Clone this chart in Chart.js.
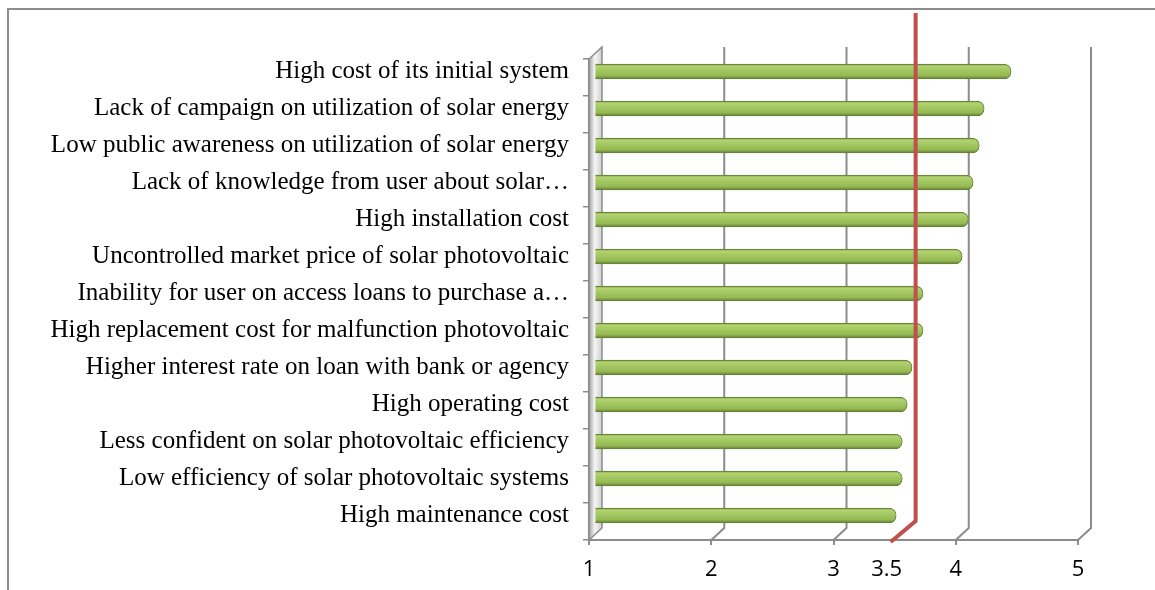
<!DOCTYPE html>
<html>
<head>
<meta charset="utf-8">
<script src="https://cdn.jsdelivr.net/npm/chart.js@4.4.1/dist/chart.umd.min.js"></script>
<style>
    html, body { margin: 0; padding: 0; background: #fff; overflow: hidden; }
    #wrap { position: relative; width: 1155px; height: 590px; }
    #frame { position: absolute; left: 7px; top: 8px; width: 1200px; height: 700px; border: 2px solid #8d8d8d; }
    #barrier-chart { position: absolute; left: 0; top: 0; }
</style>
</head>
<body>
<div id="wrap">
    <div id="frame"></div>
    <canvas id="barrier-chart" width="1155" height="590"></canvas>
</div>
<script>
// -- data --//
const barriers = [
    "High cost of its initial system",
    "Lack of campaign on utilization of solar energy",
    "Low public awareness on utilization of solar energy",
    "Lack of knowledge from user about solar…",
    "High installation cost",
    "Uncontrolled market price of solar photovoltaic",
    "Inability for user on access loans to purchase a…",
    "High replacement cost for malfunction photovoltaic",
    "Higher interest rate on loan with bank or agency",
    "High operating cost",
    "Less confident on solar photovoltaic efficiency",
    "Low efficiency of solar photovoltaic systems",
    "High maintenance cost"
];
const meanScores = [4.40, 4.18, 4.14, 4.09, 4.05, 4.00, 3.68, 3.68, 3.59, 3.55, 3.51, 3.51, 3.46];
const tickValues = [1, 2, 3, 4, 5];
const cutoff = 3.5;
const cutoffLabel = "3.5";

// 3d depth of the plot box (back wall offset)
const DX = 13;
const DY = -12;

const tickFont = { family: "'Open Sans', sans-serif", size: 22 };

// cylinder look for each bar (gradient is set in the shifted bar space)
const barGradient = (c) => {
    const chart = c.chart;
    const y = chart.scales.y;
    if (!y || c.dataIndex === undefined) return '#9bbb59';
    const cy = y.getPixelForValue(c.dataIndex);
    if (!Number.isFinite(cy)) return '#9bbb59';
    const g = chart.ctx.createLinearGradient(0, cy - 7.5, 0, cy + 7.5);
    g.addColorStop(0, '#728f3a');
    g.addColorStop(0.14, '#b3d472');
    g.addColorStop(0.4, '#a4c862');
    g.addColorStop(0.78, '#94b852');
    g.addColorStop(1, '#647b34');
    return g;
};

// -- back grid, side wall, red cutoff line --//
const depthPlugin = {
    id: 'depth',
    beforeDatasetsDraw(chart) {
        const { ctx, chartArea: a, scales: { x } } = chart;
        ctx.save();
        ctx.strokeStyle = '#8c8c8c';
        ctx.lineWidth = 2;
        tickValues.slice(1).forEach(v => {
            const px = x.getPixelForValue(v);
            ctx.beginPath();
            ctx.moveTo(px + DX, a.top + DY);
            ctx.lineTo(px + DX, a.bottom + DY);
            ctx.lineTo(px, a.bottom);
            ctx.stroke();
        });

        // left wall
        const l = a.left;
        const wall = ctx.createLinearGradient(l, 0, l + DX, 0);
        wall.addColorStop(0, '#a3a3a3');
        wall.addColorStop(0.45, '#f6f6f6');
        wall.addColorStop(1, '#cdcdcd');
        ctx.fillStyle = wall;
        ctx.beginPath();
        ctx.moveTo(l, a.top);
        ctx.lineTo(l + DX, a.top + DY);
        ctx.lineTo(l + DX, a.bottom + DY);
        ctx.lineTo(l, a.bottom);
        ctx.closePath();
        ctx.fill();
        ctx.lineWidth = 1.5;
        ctx.stroke();
        ctx.restore();

        // bars sit half way into the box
        ctx.save();
        ctx.translate(DX / 2, DY / 2);
    },
    afterDatasetsDraw(chart) {
        const { ctx, chartArea: a, scales: { x } } = chart;
        ctx.restore();

        const footX = x.getPixelForValue(cutoff) - 4;
        const footY = a.bottom + 2;
        ctx.save();
        ctx.strokeStyle = '#c0504d';
        ctx.lineWidth = 4;
        ctx.beginPath();
        ctx.moveTo(footX, footY);
        ctx.lineTo(footX + 25, footY - 21);
        ctx.lineTo(footX + 25, 13);
        ctx.stroke();

        ctx.fillStyle = '#000';
        ctx.font = `${tickFont.size}px ${tickFont.family}`;
        ctx.textAlign = 'center';
        ctx.textBaseline = 'middle';
        ctx.fillText(cutoffLabel, footX - 4, x.top + 5 + 12 + tickFont.size * 0.6);
        ctx.restore();
    }
};

const barrierCanvas = document.getElementById("barrier-chart");

const barrierData = {
    labels: barriers,
    datasets: [{
        data: meanScores,
        backgroundColor: barGradient,
        borderColor: '#66803a',
        borderWidth: 1,
        borderRadius: 8,
        borderSkipped: 'start',
        barThickness: 15
    }]
};

const barrierOptions = {
    indexAxis: 'y',
    responsive: false,
    animation: false,
    layout: {
        padding: { top: 59, right: 77, bottom: 8, left: 0 }
    },
    scales: {
        x: {
            min: 1,
            max: 5,
            afterBuildTicks: (scale) => {
                scale.ticks = tickValues.map(v => ({ value: v }));
            },
            afterFit: (scale) => { scale.height = 42; },
            ticks: {
                color: '#000',
                font: tickFont,
                padding: 12,
                maxRotation: 0
            },
            grid: {
                drawOnChartArea: false,
                tickLength: 5,
                color: '#8c8c8c',
                lineWidth: 2
            },
            border: { color: '#8c8c8c', width: 2 }
        },
        y: {
            afterFit: (scale) => { scale.width = 589; },
            ticks: {
                color: '#000',
                font: { family: "'Liberation Serif', 'Times New Roman', serif", size: 25 },
                padding: 14,
                labelOffset: -6,
                autoSkip: false
            },
            grid: {
                drawOnChartArea: false,
                tickLength: 6,
                color: '#8c8c8c',
                lineWidth: 1.5
            },
            border: { color: '#8c8c8c', width: 1.5 }
        }
    },
    plugins: {
        legend: { display: false },
        tooltip: { enabled: false }
    }
};

let barrierChart = new Chart(barrierCanvas, {
    type: 'bar',
    data: barrierData,
    options: barrierOptions,
    plugins: [depthPlugin]
});
</script>
</body>
</html>
